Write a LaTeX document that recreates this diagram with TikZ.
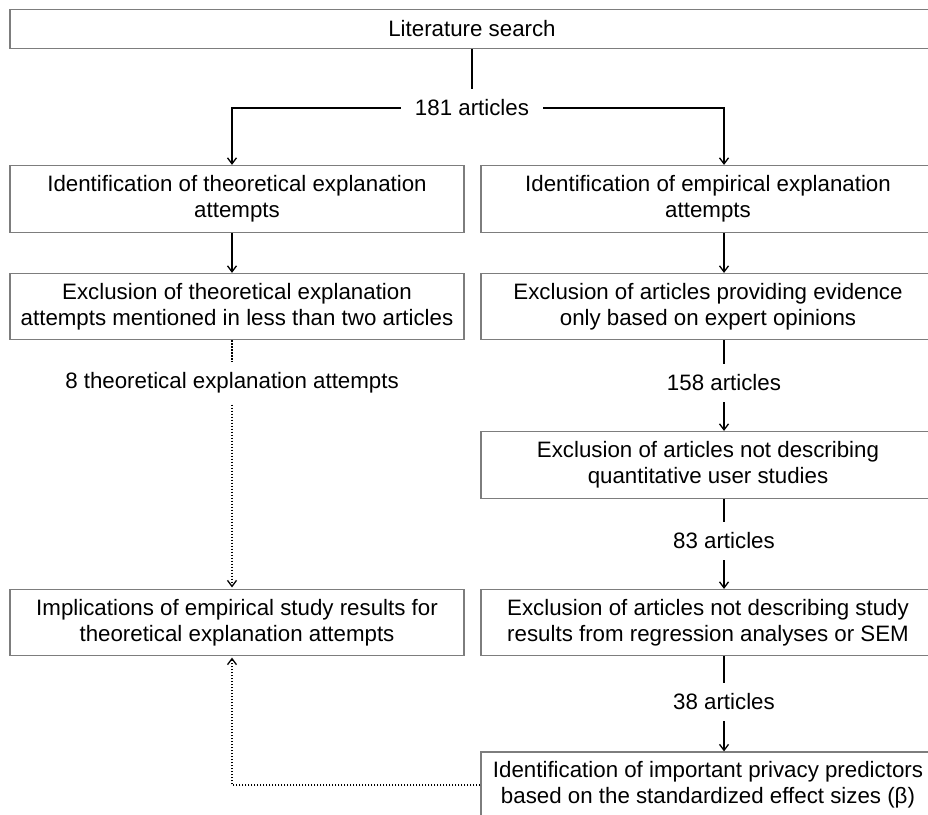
\documentclass[tikz,border=0pt]{standalone}
\usepackage{fontspec}
\setmainfont{Liberation Sans}
\usetikzlibrary{arrows.meta}
\definecolor{boxgray}{RGB}{125,125,125}
\tikzset{
  box/.style={draw=boxgray, line width=1.2pt, align=center, inner sep=0pt, minimum width=454pt, minimum height=66pt, font=\fontsize{22.3}{26}\selectfont},
  lbl/.style={inner xsep=14pt, inner ysep=11pt, font=\fontsize{22.3}{26}\selectfont},
  conn/.style={line width=1.5pt, black},
  arr/.style={conn, -{Straight Barb[length=6pt,width=9pt,line width=1.3pt]}},
  dotline/.style={line width=2pt, black, dash pattern=on 1.5pt off 1.5pt},
  dotarr/.style={dotline, -{Straight Barb[length=6pt,width=9pt,line width=1.3pt,sep]}}
}
\begin{document}
\begin{tikzpicture}[x=1pt,y=-1pt]
\clip (0,0) rectangle (928,814);
\fill[white] (0,0) rectangle (928,814);
% boxes
\node[box, minimum width=924pt, minimum height=39pt] (top) at (472,29) {Literature search};
\node[box, minimum height=67pt] (L1) at (237,199) {Identification of theoretical explanation\\attempts};
\node[box, minimum height=67pt] (R1) at (708,199) {Identification of empirical explanation\\attempts};
\node[box] (L2) at (237,306.5) {Exclusion of theoretical explanation\\attempts mentioned in less than two articles};
\node[box] (R2) at (708,306.5) {Exclusion of articles providing evidence\\only based on expert opinions};
\node[box, minimum height=67pt] (R3) at (708,465) {Exclusion of articles not describing\\quantitative user studies};
\node[box] (L3) at (237,622.5) {Implications of empirical study results for\\theoretical explanation attempts};
\node[box] (R4) at (708,622.5) {Exclusion of articles not describing study\\results from regression analyses or SEM};
\node[box] (R5) at (708,785) {Identification of important privacy predictors\\based on the standardized effect sizes (β)};
% labels
\node[lbl] (n181) at (472,108) {181 articles};
\node[lbl] (n8) at (232,383) {8 theoretical explanation attempts};
\node[lbl] (n158) at (724,383) {158 articles};
\node[lbl] (n83) at (724,541) {83 articles};
\node[lbl] (n38) at (724,702) {38 articles};
% connectors
\draw[conn] (top.south -| n181) -- (n181.north);
\draw[arr] (n181.west) -| (L1.north -| n8);
\draw[arr] (n181.east) -| (R1.north -| n158);
\draw[arr] (L1.south -| n8) -- (L2.north -| n8);
\draw[arr] (R1.south -| n158) -- (R2.north -| n158);
\draw[dotline] (L2.south -| n8) -- (n8.north);
\draw[dotarr] (n8.south) -- (L3.north -| n8);
\draw[conn] (R2.south -| n158) -- (n158.north);
\draw[arr] (n158.south) -- (R3.north -| n158);
\draw[conn] (R3.south -| n83) -- (n83.north);
\draw[arr] (n83.south) -- (R4.north -| n83);
\draw[conn] (R4.south -| n38) -- (n38.north);
\draw[arr] (n38.south) -- (R5.north -| n38);
\draw[dotarr] (R5.west) -| (L3.south -| n8);
\end{tikzpicture}
\end{document}
